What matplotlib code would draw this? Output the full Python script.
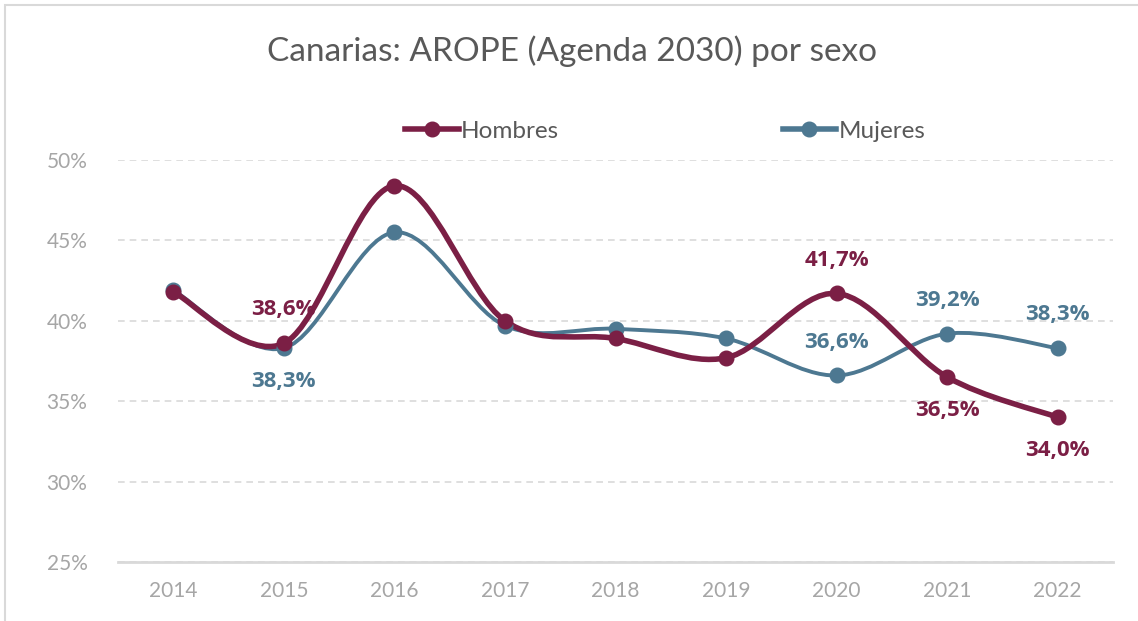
import matplotlib.pyplot as plt
import numpy as np
from matplotlib.path import Path
from matplotlib.patches import PathPatch, Rectangle

plt.rcParams['font.family'] = ['Lato', 'DejaVu Sans']

years = ['2014', '2015', '2016', '2017', '2018', '2019', '2020', '2021', '2022']
hombres = [41.8, 38.6, 48.4, 40.0, 38.9, 37.7, 41.7, 36.5, 34.0]
mujeres = [41.9, 38.3, 45.5, 39.7, 39.5, 38.9, 36.6, 39.2, 38.3]

# which points get a label, and where (+1 above, -1 below)
labels_h = {1: 1, 6: 1, 7: -1, 8: -1}
labels_m = {1: -1, 6: 1, 7: 1, 8: 1}

c_h = '#7B1F45'
c_m = '#4D7891'


def smooth_path(xs, ys):
    # excel style smoothed line: cubic bezier, control points from neighbours
    pts = np.column_stack([xs, ys]).astype(float)
    n = len(pts)
    verts = [pts[0]]
    codes = [Path.MOVETO]
    for i in range(n - 1):
        p0 = pts[i - 1] if i > 0 else pts[i]
        p1 = pts[i]
        p2 = pts[i + 1]
        p3 = pts[i + 2] if i + 2 < n else pts[i + 1]
        verts += [p1 + (p2 - p0) / 6, p2 - (p3 - p1) / 6, p2]
        codes += [Path.CURVE4] * 3
    return Path(verts, codes)


fig = plt.figure(figsize=(11.38, 6.21), dpi=100)
fig.patches.append(Rectangle((5 / 1138, -0.1), 1.2, 1 - 5 / 621 + 0.1, transform=fig.transFigure,
                             fill=False, edgecolor='#D9D9D9', linewidth=1.5))
ax = fig.add_axes([118 / 1138, 59 / 621, 995 / 1138, 402 / 621])

x = np.arange(len(years))
for vals, col, lw, lab, lbls in [(mujeres, c_m, 2.8, 'Mujeres', labels_m),
                                 (hombres, c_h, 4.0, 'Hombres', labels_h)]:
    ax.add_patch(PathPatch(smooth_path(x, vals), facecolor='none', edgecolor=col,
                           linewidth=lw, clip_on=False, zorder=3, capstyle='round'))
    ax.plot(x, vals, 'o', color=col, markersize=10.5, clip_on=False, zorder=4)
    for i, side in lbls.items():
        ax.annotate(f'{vals[i]:.1f}%'.replace('.', ','), (x[i], vals[i]),
                    xytext=(0, 24 * side), textcoords='offset points',
                    ha='center', va='center', color=col, fontsize=16,
                    fontweight='bold', family=['Open Sans', 'DejaVu Sans'], zorder=5)

# legend handles
ax.plot([], [], '-o', color=c_h, lw=4, markersize=10.5, label='Hombres')
ax.plot([], [], '-o', color=c_m, lw=4, markersize=10.5, label='Mujeres')
handles, labs = ax.get_legend_handles_labels()
ax.legend(handles, labs, loc='center', bbox_to_anchor=(0.55, 1.072), ncol=2, frameon=False,
          fontsize=17.5, handlelength=2.2, handletextpad=0.1, columnspacing=9.2,
          labelcolor='#595959')

ax.set_xlim(-0.5, len(years) - 0.5)
ax.set_ylim(25, 50)
ax.set_xticks(x)
ax.set_xticklabels(years)
ax.set_yticks([25, 30, 35, 40, 45, 50])
ax.set_yticklabels([f'{v}%' for v in [25, 30, 35, 40, 45, 50]])
ax.tick_params(colors='#A6A6A6', labelsize=15, length=0)
ax.tick_params(axis='x', pad=14)
ax.tick_params(axis='y', pad=22)
ax.grid(axis='y', linestyle=(0, (4, 3)), color='#D9D9D9', linewidth=1.2)
ax.set_axisbelow(True)
for s in ['top', 'right', 'left']:
    ax.spines[s].set_visible(False)
ax.spines['bottom'].set_color('#D9D9D9')
ax.spines['bottom'].set_linewidth(2)

fig.text(572 / 1138, 1 - 51 / 621, 'Canarias: AROPE (Agenda 2030) por sexo', ha='center', va='center',
         fontsize=24, color='#595959')

fig.savefig('out.png', dpi=100)
